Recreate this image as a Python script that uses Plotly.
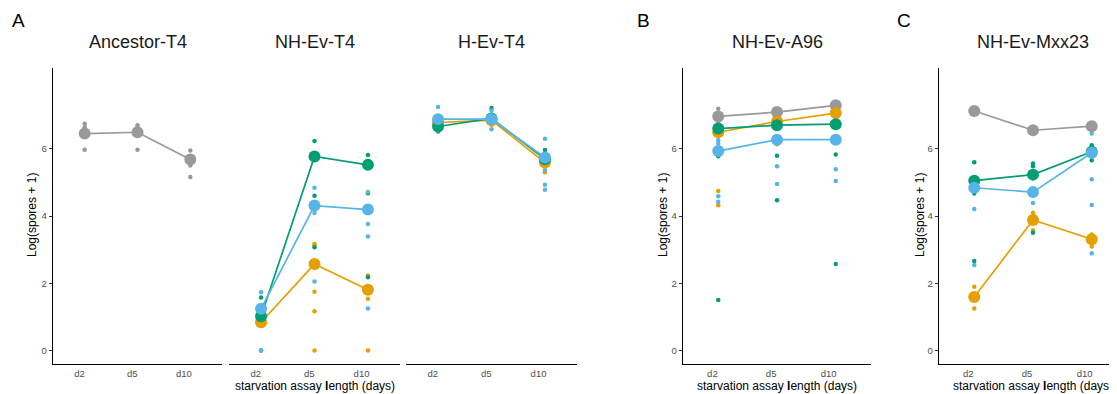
import plotly.graph_objects as go

days = ["d2", "d5", "d10"]
panel_titles = ["Ancestor-T4", "NH-Ev-T4", "H-Ev-T4", "NH-Ev-A96", "NH-Ev-Mxx23"]
y_ticks = [0, 2, 4, 6]

GRAY, ORANGE, GREEN, BLUE = "#999999", "#E69F00", "#009E73", "#56B4E9"

# ---- Panel 1: Ancestor-T4 ----
anc_gray_mean = [6.45, 6.49, 5.68]
anc_gray_reps = [[6.74, 6.64, 6.45, 5.97], [6.70, 6.55, 6.49, 5.97], [5.95, 5.70, 5.50, 5.16]]

# ---- Panel 2: NH-Ev-T4 ----
nht4_orange_mean = [0.84, 2.57, 1.81]
nht4_orange_reps = [[1.04, 0.84], [3.17, 3.12, 1.75, 1.17, 0.0], [2.23, 1.54, 0.0]]
nht4_green_mean = [1.02, 5.77, 5.52]
nht4_green_reps = [[1.58, 1.00, 0.0], [6.23, 4.60, 3.07], [5.81, 4.68, 2.18]]
nht4_blue_mean = [1.24, 4.31, 4.19]
nht4_blue_reps = [[1.73, 0.89, 0.0], [4.84, 4.09, 2.53, 2.05], [4.71, 3.76, 3.39, 1.25]]

# ---- Panel 3: H-Ev-T4 ----
ht4_orange_mean = [6.78, 6.85, 5.59]
ht4_orange_reps = [[6.80], [6.71], [5.30]]
ht4_green_mean = [6.66, 6.90, 5.69]
ht4_green_reps = [[6.51], [7.21], [5.96]]
ht4_blue_mean = [6.88, 6.88, 5.74]
ht4_blue_reps = [[7.24, 6.51], [7.14, 6.58], [6.30, 5.37, 4.93, 4.78]]

# ---- Panel 4: NH-Ev-A96 ----
a96_gray_mean = [6.96, 7.09, 7.29]
a96_gray_reps = [[7.19, 6.80], [7.09], [7.29]]
a96_orange_mean = [6.49, 6.81, 7.06]
a96_orange_reps = [[6.95, 4.74, 4.32], [6.30, 6.13], [6.95, 6.35]]
a96_green_mean = [6.60, 6.70, 6.73]
a96_green_reps = [[7.00, 5.78, 1.50], [7.05, 5.79, 4.47], [7.19, 5.83, 2.57]]
a96_blue_mean = [5.93, 6.27, 6.27]
a96_blue_reps = [[6.25, 6.15, 4.59, 4.42], [5.48, 4.95], [6.70, 5.39, 5.04]]

# ---- Panel 5: NH-Ev-Mxx23 ----
mxx_gray_mean = [7.12, 6.55, 6.67]
mxx_gray_reps = [[7.12], [6.55], [6.67]]
mxx_orange_mean = [1.59, 3.88, 3.31]
mxx_orange_reps = [[1.90, 1.25], [4.10, 3.58], [3.45, 3.09]]
mxx_green_mean = [5.05, 5.23, 5.91]
mxx_green_reps = [[5.60, 4.67, 2.66], [5.56, 5.48, 3.85, 3.50], [6.10, 5.66]]
mxx_blue_mean = [4.84, 4.71, 5.88]
mxx_blue_reps = [[5.12, 4.21, 2.54], [5.12, 4.39], [6.45, 5.09, 4.33, 2.89]]

panel_groups = [
    [(GRAY, anc_gray_mean, anc_gray_reps)],
    [(ORANGE, nht4_orange_mean, nht4_orange_reps), (GREEN, nht4_green_mean, nht4_green_reps),
     (BLUE, nht4_blue_mean, nht4_blue_reps)],
    [(ORANGE, ht4_orange_mean, ht4_orange_reps), (GREEN, ht4_green_mean, ht4_green_reps),
     (BLUE, ht4_blue_mean, ht4_blue_reps)],
    [(GRAY, a96_gray_mean, a96_gray_reps), (ORANGE, a96_orange_mean, a96_orange_reps),
     (GREEN, a96_green_mean, a96_green_reps), (BLUE, a96_blue_mean, a96_blue_reps)],
    [(GRAY, mxx_gray_mean, mxx_gray_reps), (ORANGE, mxx_orange_mean, mxx_orange_reps),
     (GREEN, mxx_green_mean, mxx_green_reps), (BLUE, mxx_blue_mean, mxx_blue_reps)],
]

# page body has an 8px margin: work in screen pixels and shift by OFF
OFF = 8
W, H = 1117 - OFF, 394 - OFF
TOP, BOT = 68 - OFF, 364 - OFF
PH = BOT - TOP
dom_px = [(53, 222), (229, 400), (406, 577), (683, 871), (939, 1117)]
x_ranges = [[-0.6, 2.6]] * 4 + [[-0.6, 2.43]]
show_y = [True, False, False, True, True]
ytitle_x = [32, None, None, 663, 920]
show_xtitle = [False, True, False, True, True]
letters = [("A", 18), ("B", 643), ("C", 904)]

FONT = "Liberation Sans, Arial, Helvetica, sans-serif"


def py(p):
    return (BOT - (p - OFF)) / PH


def px(p):
    return (p - OFF) / W


fig = go.Figure()
layout = {}
annotations = []
for i in range(5):
    n = "" if i == 0 else str(i + 1)
    xa, ya = "x" + n, "y" + n
    for color, means, reps in panel_groups[i]:
        xs, ys = [], []
        for j, vals in enumerate(reps):
            xs += [j] * len(vals)
            ys += vals
        fig.add_trace(go.Scatter(x=xs, y=ys, mode="markers", xaxis=xa, yaxis=ya,
                                 marker=dict(color=color, size=4.5, line=dict(width=0)),
                                 showlegend=False, hoverinfo="y"))
    for color, means, reps in panel_groups[i]:
        fig.add_trace(go.Scatter(x=[0, 1, 2], y=means, mode="lines+markers", xaxis=xa, yaxis=ya,
                                 line=dict(color=color, width=1.7),
                                 marker=dict(color=color, size=12, line=dict(width=0)),
                                 showlegend=False, hoverinfo="y"))
    l, r = dom_px[i]
    layout["xaxis" + n] = dict(
        domain=[px(l), min(px(r), 1.0)], range=x_ranges[i], anchor=ya,
        tickvals=[-0.1, 0.9, 1.88], ticktext=days, ticks="", showgrid=False, zeroline=False,
        showline=True, linecolor="black", linewidth=1.4,
        tickfont=dict(family=FONT, size=9.5, color="#4D4D4D"), fixedrange=True)
    layout["yaxis" + n] = dict(
        domain=[0, 1], range=[-0.4, 8.4], anchor=xa,
        tickvals=y_ticks if show_y[i] else [], showticklabels=show_y[i],
        ticks="outside" if show_y[i] else "", ticklen=3, tickwidth=1, tickcolor="#333333",
        showgrid=False, zeroline=False, showline=show_y[i], linecolor="black", linewidth=1.4,
        tickfont=dict(family=FONT, size=9.5, color="#4D4D4D"), fixedrange=True)
    annotations.append(dict(text=panel_titles[i], xref=xa, x=1, yref="paper", y=py(42),
                            xanchor="center", yanchor="middle", showarrow=False,
                            font=dict(family=FONT, size=18, color="#1a1a1a")))
    if ytitle_x[i] is not None:
        annotations.append(dict(text="Log(spores + 1)", xref="paper", x=px(ytitle_x[i]),
                                yref="paper", y=py(215), textangle=-90, xanchor="center",
                                yanchor="middle", showarrow=False,
                                font=dict(family=FONT, size=12, color="black")))
    if show_xtitle[i]:
        annotations.append(dict(text="starvation assay <b>l</b>ength (days)", xref=xa, x=1,
                                yref="paper", y=py(386), xanchor="center", yanchor="middle",
                                showarrow=False, font=dict(family=FONT, size=12, color="black")))

for t, xp in letters:
    annotations.append(dict(text=t, xref="paper", x=px(xp), yref="paper", y=py(8),
                            xanchor="center", yanchor="top", showarrow=False,
                            font=dict(family=FONT, size=19, color="black")))

fig.update_layout(width=W, height=H, margin=dict(l=0, r=0, t=TOP, b=H - BOT),
                  plot_bgcolor="white", paper_bgcolor="white", annotations=annotations,
                  **layout)
fig.write_html("out.html")
